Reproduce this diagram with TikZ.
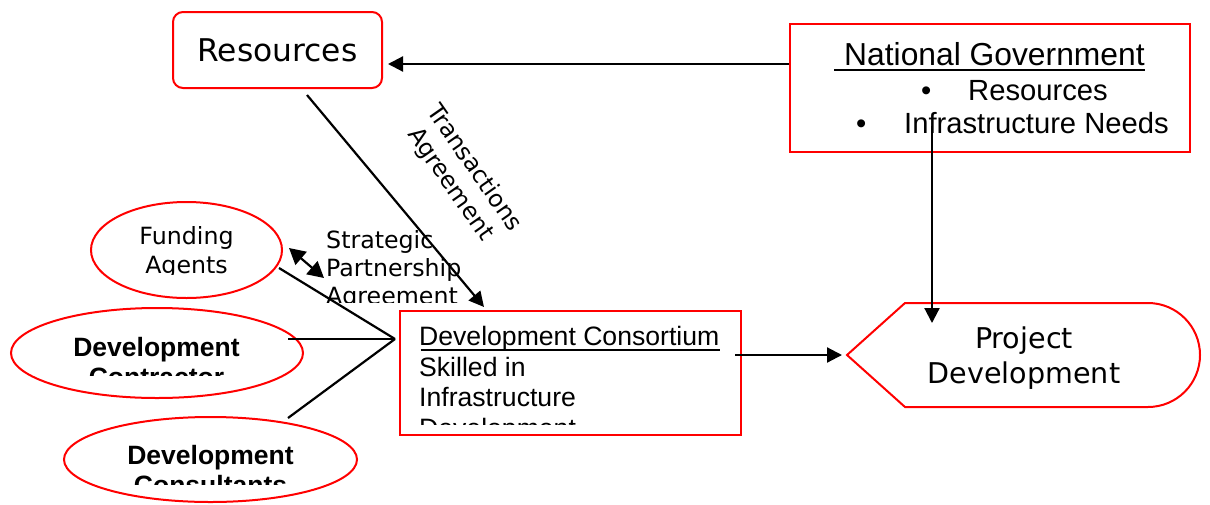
\documentclass[tikz,border=0pt]{standalone}
\usepackage{fontspec}
\usetikzlibrary{arrows.meta,shapes.geometric}
\newfontfamily\dvs{DejaVu Sans}
\newfontfamily\ars{Liberation Sans}
\definecolor{boxred}{RGB}{255,0,0}
\tikzset{
  redline/.style={draw=boxred, line width=2pt},
  conn/.style={line width=2.2pt, draw=black},
  arr/.style={conn, -{Triangle[length=15pt,width=15pt]}},
  dblarr/.style={conn, {Triangle[length=16pt,width=17pt]}-{Triangle[length=16pt,width=17pt]}},
  txt/.style={inner sep=0pt, anchor=base west},
  ctxt/.style={inner sep=0pt, anchor=base},
  ulin/.style={line width=2.2pt, draw=black},
  dvA/.style={font=\dvs\fontsize{23.7}{29}\selectfont},
  dvB/.style={font=\dvs\fontsize{28.6}{35}\selectfont},
  dvC/.style={font=\dvs\fontsize{31.3}{36}\selectfont},
  arT/.style={font=\ars\fontsize{31.8}{36}\selectfont},
  arL/.style={font=\ars\fontsize{29.2}{33}\selectfont},
  arM/.style={font=\ars\fontsize{26.6}{30}\selectfont},
  arB/.style={font=\ars\bfseries\fontsize{26.5}{30}\selectfont},
}
\begin{document}
\begin{tikzpicture}[x=1pt,y=-1pt]
\useasboundingbox (0,0) rectangle (1210,504);

% Resources
\node[redline, rounded corners=10pt, minimum width=209pt, minimum height=76pt, dvC] (res) at (277.5,50) {Resources};

% National Government
\node[redline, minimum width=400pt, minimum height=128pt] (ng) at (990,88) {};
\node[txt, arT] (ngt) at (844,65) {National Government};
\draw[ulin] ([xshift=-10pt,yshift=-5pt]ngt.base west) -- ([yshift=-5pt]ngt.base east);
\node[txt, arL] (ngb1) at (921,100.7) {•};
\node[txt, arL] (ngr) at (968,100.7) {Resources};
\node[txt, arL] (ngb2) at (856,133.3) {•};
\node[txt, arL] (ngi) at (904,133.3) {Infrastructure Needs};

% Development Consortium
\node[redline, minimum width=341pt, minimum height=124pt] (dc) at (570.5,373) {};
\node[txt, arM] (dc1) at (419,345.7) {Development Consortium};
\draw[ulin] ([xshift=1.5pt,yshift=-4.5pt]dc1.base west) -- ([yshift=-4.5pt]dc1.base east);
\node[txt, arM] (dc2) at (419,376) {Skilled in};
\node[txt, arM] (dc3) at (419,406.7) {Infrastructure};
\begin{scope}
  \clip (402,300) rectangle (739,424.5);
  \node[txt, arM] (dc4) at (419,437) {Development};
\end{scope}

% Project Development
\draw[redline] (847,355) -- (905,303) -- (1148,303)
  .. controls (1176.7,303) and (1200,326.3) .. (1200,355)
  .. controls (1200,383.7) and (1176.7,407) .. (1148,407)
  -- (905,407) -- cycle;
\node[ctxt, dvB] (pd1) at (1024,348) {Project};
\node[ctxt, dvB] (pd2) at (1024,383.5) {Development};

% Funding Agents
\node[redline, ellipse, minimum width=191pt, minimum height=96pt] (fa) at (186.5,250) {};
\node[ctxt, dvA] (fa1) at (186.5,244) {Funding};
\begin{scope}
  \clip (100,200) rectangle (280,274.3);
  \node[ctxt, dvA] (fa2) at (186.5,273) {Agents};
\end{scope}

% Development Contractor
\node[redline, ellipse, minimum width=292pt, minimum height=90pt] (co) at (157,353) {};
\node[ctxt, arB] (co1) at (156.5,356) {Development};
\begin{scope}
  \clip (20,300) rectangle (300,375);
  \node[ctxt, arB] (co2) at (156.5,386) {Contractor};
\end{scope}

% Development Consultants
\node[redline, ellipse, minimum width=293pt, minimum height=85pt] (cs) at (210.5,459.5) {};
\node[ctxt, arB] (cs1) at (210.5,464) {Development};
\begin{scope}
  \clip (70,410) rectangle (350,484);
  \node[ctxt, arB] (cs2) at (210.5,494) {Consultants};
\end{scope}

% Labels
\node[txt, dvA] (sp1) at (326,248) {Strategic};
\node[txt, dvA] (sp2) at (326,276) {Partnership};
\begin{scope}
  \clip (300,200) rectangle (480,302);
  \node[txt, dvA] (sp3) at (326,304) {Agreement};
\end{scope}
\node[rotate=-55, align=center, inner sep=0pt, dvA] (ta) at (462,176.5) {Transactions\\Agreement};

% Connector points
\coordinate (ngL) at (789,64);
\coordinate (resR) at (388,64);
\coordinate (resB) at (307,95);
\coordinate (dcT) at (484,307);
\coordinate (ngIn) at (932,126);
\coordinate (pdT) at (932,323);
\coordinate (dcR) at (735,355);
\coordinate (pdL) at (842,355);
\coordinate (J) at (395,339);
\coordinate (faOut) at (279,268);
\coordinate (coOut) at (288,339);
\coordinate (csOut) at (288,418);
\coordinate (spA) at (289,248);
\coordinate (spB) at (324,278);

% Connectors
\draw[arr] (ngL) -- (resR);
\draw[arr] (resB) -- (dcT);
\draw[arr] (ngIn) -- (pdT);
\draw[arr] (dcR) -- (pdL);
\draw[conn] (faOut) -- (J);
\draw[conn] (coOut) -- (J);
\draw[conn] (csOut) -- (J);
\draw[dblarr] (spA) -- (spB);
\end{tikzpicture}
\end{document}
